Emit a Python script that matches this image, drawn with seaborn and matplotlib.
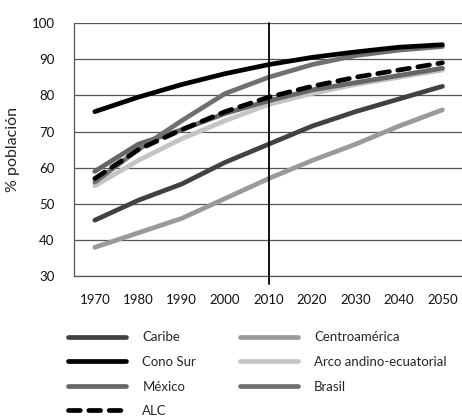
import pandas as pd
import numpy as np
import matplotlib
matplotlib.use("Agg")
import matplotlib.pyplot as plt
import seaborn as sns

years = [1970, 1980, 1990, 2000, 2010, 2020, 2030, 2040, 2050]
caribe = [45.5, 51, 55.5, 61.5, 66.5, 71.5, 75.5, 79, 82.5]
centroamerica = [38, 42, 46, 51.5, 57, 62, 66.5, 71.5, 76]
cono_sur = [75.5, 79.5, 83, 86, 88.5, 90.5, 92, 93.3, 94]
arco_andino = [55, 62, 68, 73, 77.5, 80.5, 83, 85, 87]
mexico = [59, 66.5, 70.5, 75, 78.5, 81.5, 83.5, 85.5, 87.5]
brasil = [56, 65, 73, 80.5, 85, 88.5, 91, 92.5, 93.5]
alc = [57, 65, 70.5, 75.5, 79.5, 82.5, 85, 87, 89]

series = {
    "Caribe": (caribe, "#414141", "-"),
    "Cono Sur": (cono_sur, "#000000", "-"),
    "México": (mexico, "#666666", "-"),
    "ALC": (alc, "#000000", "--"),
    "Centroamérica": (centroamerica, "#9a9a9a", "-"),
    "Arco andino-ecuatorial": (arco_andino, "#c4c4c4", "-"),
    "Brasil": (brasil, "#707070", "-"),
}
draw_order = ["Centroamérica", "Caribe", "Arco andino-ecuatorial", "México",
              "Brasil", "Cono Sur", "ALC"]

sns.set_style("white")
plt.rcParams["font.family"] = ["Lato", "DejaVu Sans"]

fig = plt.figure(figsize=(4.62, 4.18), dpi=100)
ax = fig.add_axes([0.160, 0.339, 0.840, 0.606])

handles = {}
for name in draw_order:
    vals, color, ls = series[name]
    df = pd.DataFrame({"year": years, "val": vals})
    sns.lineplot(data=df, x="year", y="val", ax=ax, color=color, lw=3.4,
                 legend=False)
    line = ax.lines[-1]
    line.set_solid_capstyle("round")
    line.set_solid_joinstyle("round")
    if ls == "--":
        line.set_dashes((2.5, 1.8))
        line.set_dash_capstyle("round")
    line.set_zorder(3)
    handles[name] = line

ax.set_xlim(1965.2, 2054.5)
ax.set_ylim(30, 100)
ax.set_yticks(range(30, 101, 10))
ax.set_xticks(years)
ax.yaxis.grid(True, color="#555555", lw=0.9)
ax.set_axisbelow(True)
ax.axvline(2010, ymin=-0.03, ymax=1, color="black", lw=1.3, clip_on=False, zorder=4)

for s in ["top", "right"]:
    ax.spines[s].set_visible(False)
ax.spines["left"].set_color("#555555")
ax.spines["bottom"].set_color("#555555")
ax.spines["left"].set_linewidth(0.9)
ax.spines["bottom"].set_linewidth(0.9)

ax.tick_params(axis="both", length=0, labelsize=9.5, colors="#111111")
ax.tick_params(axis="y", pad=14)
ax.tick_params(axis="x", pad=13)
ax.set_xlabel("")
ax.set_ylabel("% población", fontsize=11.5)
ax.yaxis.set_label_coords(-0.139, 0.5)

order = ["Caribe", "Cono Sur", "México", "ALC",
         "Centroamérica", "Arco andino-ecuatorial", "Brasil"]
fig.legend([handles[n] for n in order], order, loc="upper left",
           bbox_to_anchor=(0.148, 0.207), ncol=2, frameon=False,
           fontsize=9.5, handlelength=4.4, handletextpad=1.2,
           columnspacing=3.35, labelspacing=0.95, borderaxespad=0,
           borderpad=0)

fig.savefig("out.png", dpi=100)
